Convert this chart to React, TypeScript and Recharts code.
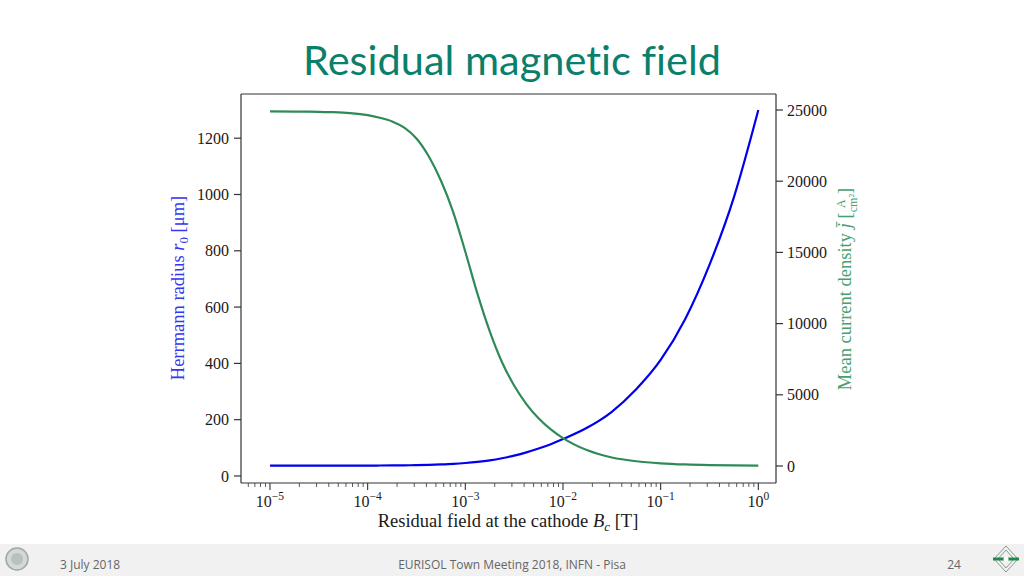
// Residual magnetic field: Herrmann radius and mean current density vs. residual field
import { ComposedChart, Line, XAxis, YAxis, ReferenceLine } from 'recharts';

// residual field at the cathode, T (denser samples around the knee)
const fieldT = [
  1e-5, 1.78e-5, 3.16e-5, 4.22e-5, 5.62e-5, 7.5e-5, 1e-4, 1.33e-4, 1.78e-4, 2.37e-4, 3.16e-4,
  4.22e-4, 5.62e-4, 7.5e-4, 1e-3, 1.33e-3, 1.78e-3, 2.37e-3, 3.16e-3, 4.22e-3, 5.62e-3, 7.5e-3,
  1e-2, 1.78e-2, 3.16e-2, 5.62e-2, 0.1, 0.178, 0.316, 0.562, 1,
];
// Herrmann radius r0, µm
const herrmannRadius = [
  36.5, 36.5, 36.6, 36.6, 36.7, 36.8, 36.9, 37.1, 37.4, 37.9, 38.5, 39.5, 41, 43, 46, 50, 55.5,
  63, 72.5, 84, 97.5, 113, 131, 172, 228, 308, 412, 557, 750, 990, 1300,
];
// mean current density, A/cm²
const currentDensity = [
  24900, 24890, 24875, 24850, 24815, 24750, 24640, 24460, 24200, 23760, 23000, 21750, 20050,
  17850, 15050, 12100, 9450, 7300, 5650, 4350, 3350, 2570, 1960, 1100, 600, 335, 190, 108, 62,
  38, 24,
];

const radiusTicks = [0, 200, 400, 600, 800, 1000, 1200];
const densityTicks = [0, 5000, 10000, 15000, 20000, 25000];
const decadeTicks = [1e-5, 1e-4, 1e-3, 1e-2, 1e-1, 1];

// minor log ticks 2..9 x 10^k inside the visible range
const minorTicks: number[] = [];
for (let e = -6; e <= 0; e++) {
  for (let m = 2; m <= 9; m++) {
    const v = m * Math.pow(10, e);
    if (v > 5.05e-6 && v < 1.517) minorTicks.push(v);
  }
}
const allXTicks = [...decadeTicks, ...minorTicks].sort((a, b) => a - b);

const data = fieldT.map((b, i) => ({ b, r0: herrmannRadius[i], j: currentDensity[i] }));

const SERIF = '"Liberation Serif", "DejaVu Serif", serif';
const SANS = "'Open Sans', 'Liberation Sans', sans-serif";
const SPINE = '#333';
const BLUE = '#0000ee';
const GREEN = '#2e8b57';

function LogTick(props: any) {
  const { x, y, payload } = props;
  const v = payload.value as number;
  const lg = Math.log10(v);
  const exp = Math.round(lg);
  const major = Math.abs(lg - exp) < 1e-6;
  return (
    <g>
      <line x1={x} x2={x} y1={y} y2={y + (major ? 7 : 4)} stroke={SPINE} strokeWidth={major ? 1.1 : 0.8} />
      {major && (
        <text x={x} y={y + 24} textAnchor="middle" fill="#1a1a1a" fontSize={16} fontFamily={SERIF}>
          10
          <tspan dy={-7} fontSize={11.5}>
            {exp === 0 ? '0' : `\u2212${-exp}`}
          </tspan>
        </text>
      )}
    </g>
  );
}

function Overlay() {
  return (
    <svg
      width={1024}
      height={576}
      style={{ position: 'absolute', left: 0, top: 0, pointerEvents: 'none' }}
    >
      {/* 标题 */}
      <text
        x={512}
        y={75}
        textAnchor="middle"
        fill="#0a7f6c"
        fontSize={41.5}
        fontFamily="Lato, 'Open Sans', sans-serif"
        style={{ fontVariantLigatures: 'none', fontFeatureSettings: '"liga" 0' }}
      >
        Residual magnetic field
      </text>

      {/* axis labels */}
      <text x={508} y={527} textAnchor="middle" fill="#1a1a1a" fontSize={18.5} fontFamily={SERIF}>
        Residual field at the cathode <tspan fontStyle="italic">B</tspan>
        <tspan fontStyle="italic" fontSize={13} dy={4}>c</tspan>
        <tspan dy={-4}> [T]</tspan>
      </text>
      <g transform="translate(178, 288) rotate(-90)">
        <text x={0} y={6} textAnchor="middle" fill="#3535f2" fontSize={18.5} fontFamily={SERIF}>
          Herrmann radius <tspan fontStyle="italic">r</tspan>
          <tspan fontSize={13} dy={4}>0</tspan>
          <tspan dy={-4}> [μm]</tspan>
        </text>
      </g>
      <g transform="translate(845, 289) rotate(-90)">
        <text x={0} y={6} textAnchor="middle" fill="#46a070" fontSize={18.5} fontFamily={SERIF}>
          Mean current density <tspan fontStyle="italic">j̄</tspan> [
          <tspan fontSize={12} dx={4.5} dy={-6}>A</tspan>
          <tspan fontSize={12} dx={-13} dy={12}>cm²</tspan>
          <tspan dy={-6}>]</tspan>
        </text>
      </g>

      {/* footer */}
      <rect x={0} y={544} width={1024} height={32} fill="#f1f1f1" />
      <text x={60} y={569} fill="#666" fontSize={12} fontFamily={SANS}>
        3 July 2018
      </text>
      <text x={512} y={569} textAnchor="middle" fill="#666" fontSize={12} fontFamily={SANS}>
        EURISOL Town Meeting 2018, INFN - Pisa
      </text>
      <text x={954} y={569} textAnchor="middle" fill="#666" fontSize={12} fontFamily={SANS}>
        24
      </text>
      <circle cx={17} cy={559} r={11} fill="#d4d8d8" stroke="#a0a8a8" strokeWidth={1.5} />
      <circle cx={17} cy={559} r={6} fill="#b8c0c0" />
      <g stroke="#8a9a90" strokeWidth={1} fill="none">
        <path d="M1006 546 L1018 559 L1006 572 L994 559 Z" />
        <path d="M1006 550 L1014 559 L1006 568 L998 559 Z" />
      </g>
      <line x1={993} x2={1019} y1={559} y2={559} stroke="#1e8a4a" strokeWidth={3} />
      <circle cx={1006} cy={559} r={2.5} fill="#ffffff" />
    </svg>
  );
}

export default function App() {
  return (
    <div style={{ position: 'absolute', left: 0, top: 0, width: 1024, height: 576, background: '#fff' }}>
      <ComposedChart
        width={1024}
        height={576}
        data={data}
        margin={{ top: 94, right: 178, left: 181, bottom: 53 }}
      >
        <XAxis
          dataKey="b"
          type="number"
          scale="log"
          domain={[5.05e-6, 1.517]}
          allowDataOverflow
          ticks={allXTicks}
          interval={0}
          tickLine={false}
          tickSize={0}
          tickMargin={0}
          tick={(p: any) => <LogTick {...p} />}
          height={40}
          stroke={SPINE}
          strokeWidth={1.2}
        />
        <YAxis
          yAxisId="left"
          orientation="left"
          domain={[-25, 1357]}
          allowDataOverflow
          ticks={radiusTicks}
          interval={0}
          width={60}
          tickSize={7}
          tickMargin={5}
          stroke={SPINE}
          strokeWidth={1.2}
          tick={{ fill: '#1a1a1a', fontSize: 16, fontFamily: SERIF }}
        />
        <YAxis
          yAxisId="right"
          orientation="right"
          domain={[-1194, 26124]}
          allowDataOverflow
          ticks={densityTicks}
          interval={0}
          width={70}
          tickSize={7}
          tickMargin={4}
          stroke={SPINE}
          strokeWidth={1.2}
          tick={{ fill: '#1a1a1a', fontSize: 16, fontFamily: SERIF }}
        />
        {/* top spine */}
        <ReferenceLine yAxisId="left" y={1357} stroke={SPINE} strokeWidth={1.2} />

        <Line
          yAxisId="left"
          type="monotone"
          dataKey="r0"
          stroke={BLUE}
          strokeWidth={2.2}
          dot={false}
          isAnimationActive={false}
        />
        <Line
          yAxisId="right"
          type="monotone"
          dataKey="j"
          stroke={GREEN}
          strokeWidth={2.2}
          dot={false}
          isAnimationActive={false}
        />
      </ComposedChart>
      <Overlay />
    </div>
  );
}
